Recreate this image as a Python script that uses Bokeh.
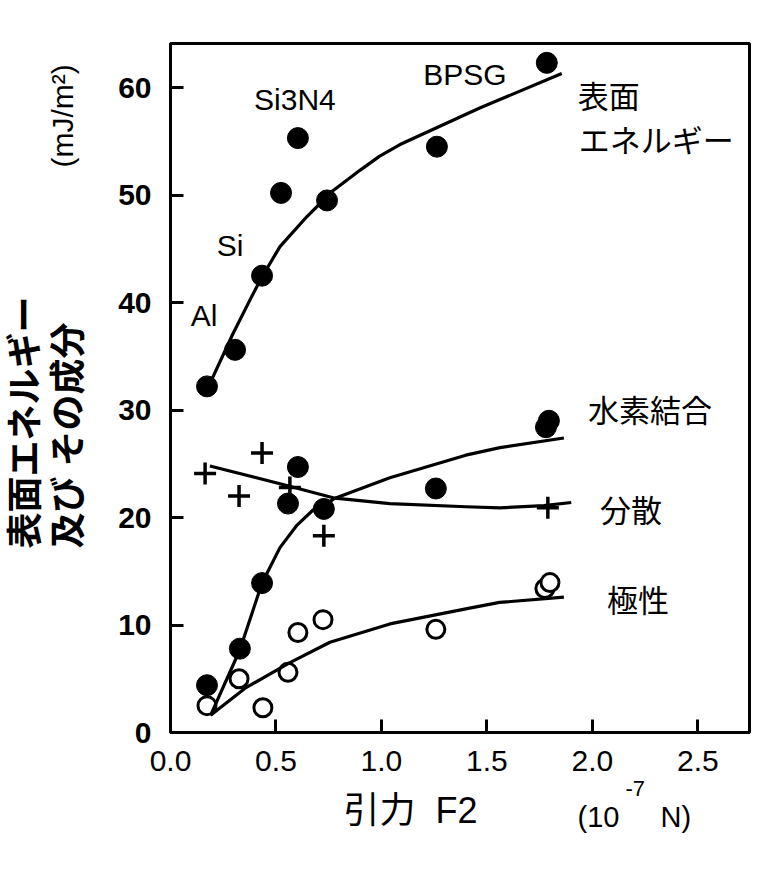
import math
from bokeh.plotting import figure
from bokeh.models import Range1d, FixedTicker, PrintfTickFormatter, Label
from bokeh.embed import file_html
from bokeh.resources import INLINE

# ---- data ----
# surface energy (filled circles)
se_x = [0.173, 0.306, 0.434, 0.524, 0.604, 0.742, 1.263, 1.784]
se_y = [32.2, 35.6, 42.5, 50.2, 55.3, 49.5, 54.5, 62.3]
# hydrogen-bond component (filled circles)
hb_x = [0.173, 0.329, 0.434, 0.557, 0.604, 0.727, 1.258, 1.780, 1.794]
hb_y = [4.4, 7.8, 13.9, 21.3, 24.7, 20.8, 22.7, 28.4, 29.0]
# polar component (open circles)
po_x = [0.173, 0.325, 0.438, 0.557, 0.604, 0.723, 1.258, 1.775, 1.799]
po_y = [2.5, 5.0, 2.3, 5.6, 9.3, 10.5, 9.6, 13.4, 13.95]
# dispersion component (crosses)
di_x = [0.164, 0.325, 0.434, 0.566, 0.727, 1.789]
di_y = [24.1, 22.0, 26.0, 22.8, 18.3, 20.9]

# hand-drawn fit curves
se_cx = [0.197, 0.296, 0.386, 0.434, 0.519, 0.647, 0.770, 0.898, 0.99, 1.088, 1.466, 1.855]
se_cy = [32.9, 37.1, 40.6, 42.4, 45.2, 48.0, 50.4, 52.3, 53.6, 54.7, 58.1, 61.3]
hb_cx = [0.19, 0.329, 0.434, 0.519, 0.60, 0.676, 0.74, 0.78, 1.04, 1.40, 1.562, 1.865]
hb_cy = [1.6, 7.7, 13.9, 17.2, 19.3, 20.7, 21.3, 21.8, 23.7, 25.8, 26.5, 27.4]
di_cx = [0.187, 0.547, 0.78, 1.04, 1.40, 1.562, 1.77, 1.90]
di_cy = [24.8, 23.0, 21.8, 21.3, 21.0, 20.9, 21.1, 21.4]
po_cx = [0.19, 0.36, 0.566, 0.756, 1.04, 1.40, 1.56, 1.865]
po_cy = [1.6, 4.2, 6.5, 8.4, 10.1, 11.5, 12.1, 12.6]

x_ticks = [0.0, 0.5, 1.0, 1.5, 2.0, 2.5]
y_ticks = [0, 10, 20, 30, 40, 50, 60]

materials = ["Al", "Si", "Si3N4", "BPSG"]
mat_x = [0.159, 0.282, 0.590, 1.396]
mat_y = [38.8, 45.3, 58.9, 61.2]

series_names = ["表面", "エネルギー", "水素結合", "分散", "極性"]
series_x = [1.931, 1.936, 1.979, 2.036, 2.069]
series_y = [59.4, 55.3, 30.1, 20.8, 12.5]

JP = "Noto Sans CJK JP"
LAT = "Liberation Sans"
MIX = "Liberation Sans, Noto Sans CJK JP"

W, H = 771, 862
p = figure(width=W, height=H, output_backend="svg", toolbar_location=None,
           x_range=Range1d(0, 2.745), y_range=Range1d(0, 64.1),
           min_border_left=170, min_border_right=22,
           min_border_top=43, min_border_bottom=130)
p.background_fill_color = "white"
p.border_fill_color = "white"
p.grid.visible = False
p.outline_line_color = "black"
p.outline_line_width = 3

for ax in (p.xaxis[0], p.yaxis[0]):
    ax.axis_line_width = 3
    ax.major_tick_in = 13
    ax.major_tick_out = 0
    ax.major_tick_line_width = 3
    ax.minor_tick_line_color = None
    ax.major_label_text_color = "black"
    ax.major_label_text_font = LAT

p.xaxis.ticker = FixedTicker(ticks=x_ticks)
p.xaxis.formatter = PrintfTickFormatter(format="%.1f")
p.xaxis.major_label_text_font_size = "30px"
p.xaxis.major_label_standoff = 18
p.yaxis.ticker = FixedTicker(ticks=y_ticks)
p.yaxis.major_label_text_font_size = "30px"
p.yaxis.major_label_text_font_style = "bold"
p.yaxis.major_label_standoff = 19

# markers
p.scatter(se_x, se_y, size=21, marker="circle", fill_color="black", line_color="black")
p.scatter(hb_x, hb_y, size=21, marker="circle", fill_color="black", line_color="black")
p.scatter(po_x, po_y, size=18, marker="circle", fill_color="white", line_color="black", line_width=3)
p.scatter(di_x, di_y, size=22, marker="cross", line_color="black", line_width=3.5)

# curves
for cx, cy in ((se_cx, se_cy), (hb_cx, hb_cy), (di_cx, di_cy), (po_cx, po_cy)):
    p.line(cx, cy, line_color="black", line_width=3.2, line_join="round")

def dlabel(text, x, y, size, font=LAT, align="left"):
    p.add_layout(Label(x=x, y=y, text=text, text_font=font, text_font_size=size,
                       text_align=align, text_baseline="middle", text_color="black"))

for t, x, y in zip(materials, mat_x, mat_y):
    dlabel(t, x, y, "30px", LAT, "center")
for t, x, y in zip(series_names, series_x, series_y):
    dlabel(t, x, y, "31px", JP)

# texts outside the frame live in the side panels (screen offsets from each panel box)
def plabel(side, text, x, y, size, font=LAT, angle=0.0, style="normal"):
    p.add_layout(Label(x=x, y=y, x_units="screen", y_units="screen", text=text,
                       text_font=font, text_font_size=size, text_font_style=style,
                       angle=angle, text_align="left", text_baseline="middle",
                       text_color="black"), side)

# left: y axis title (two rotated lines) and unit
plabel("left", "及び その成分", -6, 184, "36px", MIX, math.pi / 2, "bold")
plabel("left", "(mJ/m²)", 21, 565, "30px", LAT, math.pi / 2)
plabel("left", "表面エネルギー", 25, 184, "36px", MIX, math.pi / 2, "bold")

# below / above / right: x axis title and unit
plabel("below", "引力\u00a0\u00a0F2", 173, 4, "36px", MIX)
plabel("below", "(10", 407, 30, "29px", LAT)
plabel("above", "N)", 490, -773, "29px", LAT)
plabel("right", "-7", -124, -56, "22px", LAT)

open("out.html", "w").write(file_html(p, INLINE))
